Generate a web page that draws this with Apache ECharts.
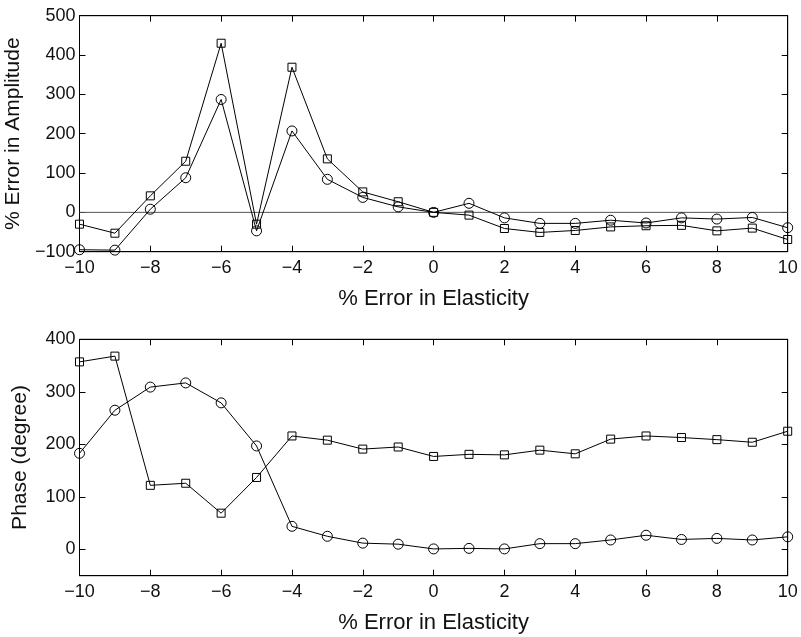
<!DOCTYPE html>
<html>
<head>
<meta charset="utf-8">
<script src="https://cdn.jsdelivr.net/npm/echarts@6/dist/echarts.min.js"></script>
<style>html,body{margin:0;padding:0;background:#fff}#c{width:801px;height:637px}</style>
</head>
<body>
<div id="c"></div>
<script>
const xValues = [-10,-9,-8,-7,-6,-5,-4,-3,-2,-1,0,1,2,3,4,5,6,7,8,9,10];
const ampSquare = [-30,-53,42,130,430,-30,369,136,52,27,0,-7,-41,-51,-46,-37,-34,-33,-47,-40,-69];
const ampCircle = [-95,-96,8,88,287,-47,207,84,38,14,0,23,-14,-28,-28,-20,-27,-14,-17,-13,-39];
const phaseSquare = [357,368,122,126,69,137,216,208,191,195,177,181,180,189,182,210,216,213,209,204,225];
const phaseCircle = [183,265,309,317,279,197,44,25,12,10,1,2,1,11,11,18,27,19,21,18,24];
const xTicks = [-10,-8,-6,-4,-2,0,2,4,6,8,10];
const ampTicks = [-100,0,100,200,300,400,500];
const phaseTicks = [0,100,200,300,400];

const FONT = 'Liberation Sans, Arial, Helvetica, sans-serif';
const fmt = v => v < 0 ? '\u2212' + (-v) : String(v);
const pair = (xs, ys) => xs.map((x, i) => [x, ys[i]]);

const chart = echarts.init(document.getElementById('c'), null, {renderer: 'canvas'});

const grids = [
  {left: 79.5, right: 13.3, top: 15.7, height: 236, show: true, borderColor: '#000', borderWidth: 1, containLabel: false, outerBoundsMode: 'none'},
  {left: 79.5, right: 13.3, top: 339.3, height: 236.4, show: true, borderColor: '#000', borderWidth: 1, containLabel: false, outerBoundsMode: 'none'}
];

function xAx(gi, pos, labels) {
  return {
    type: 'value', gridIndex: gi, position: pos, min: -10, max: 10,
    name: labels ? '% Error in Elasticity' : '', nameLocation: 'middle', nameGap: 36,
    nameTextStyle: {fontFamily: FONT, fontSize: 22, color: '#111'},
    axisLine: {show: true, onZero: false, lineStyle: {color: '#000', width: 1}},
    axisTick: {show: true, inside: true, length: 6, customValues: xTicks, lineStyle: {color: '#000'}},
    axisLabel: {show: labels, customValues: xTicks, formatter: fmt, fontFamily: FONT, fontSize: 18, color: '#111', margin: 7},
    splitLine: {show: false}
  };
}
function yAx(gi, pos, labels, min, max, ticks, name) {
  return {
    type: 'value', gridIndex: gi, position: pos, min: min, max: max,
    name: labels ? name : '', nameLocation: 'middle', nameGap: 49,
    nameTextStyle: {fontFamily: FONT, fontSize: 21, color: '#111'},
    axisLine: {show: true, onZero: false, lineStyle: {color: '#000', width: 1}},
    axisTick: {show: true, inside: true, length: 6, customValues: ticks, lineStyle: {color: '#000'}},
    axisLabel: {show: labels, customValues: ticks, formatter: fmt, fontFamily: FONT, fontSize: 18, color: '#111', margin: 4},
    splitLine: {show: false}
  };
}

function lineSeries(xi, yi, data, symbol, size) {
  return {
    type: 'line', xAxisIndex: xi, yAxisIndex: yi, data: data,
    symbol: symbol, symbolSize: size, showSymbol: true,
    lineStyle: {color: '#000', width: 1},
    itemStyle: {color: 'rgba(0,0,0,0)', borderColor: '#000', borderWidth: 1},
    animation: false, z: 3
  };
}

const option = {
  backgroundColor: '#fff',
  animation: false,
  grid: grids,
  xAxis: [xAx(0, 'bottom', true), xAx(0, 'top', false), xAx(1, 'bottom', true), xAx(1, 'top', false)],
  yAxis: [
    yAx(0, 'left', true, -100, 500, ampTicks, '% Error in Amplitude'),
    yAx(0, 'right', false, -100, 500, ampTicks, ''),
    yAx(1, 'left', true, -50, 400, phaseTicks, 'Phase (degree)'),
    yAx(1, 'right', false, -50, 400, phaseTicks, '')
  ],
  series: [
    {
      type: 'line', xAxisIndex: 0, yAxisIndex: 0, data: [[-10, 0], [10, 0]],
      symbol: 'none', lineStyle: {color: '#555', width: 1}, z: 2, silent: true
    },
    lineSeries(0, 0, pair(xValues, ampSquare), 'rect', 8),
    lineSeries(0, 0, pair(xValues, ampCircle), 'circle', 10),
    lineSeries(2, 2, pair(xValues, phaseSquare), 'rect', 8),
    lineSeries(2, 2, pair(xValues, phaseCircle), 'circle', 10)
  ]
};
chart.setOption(option);
</script>
</body>
</html>
